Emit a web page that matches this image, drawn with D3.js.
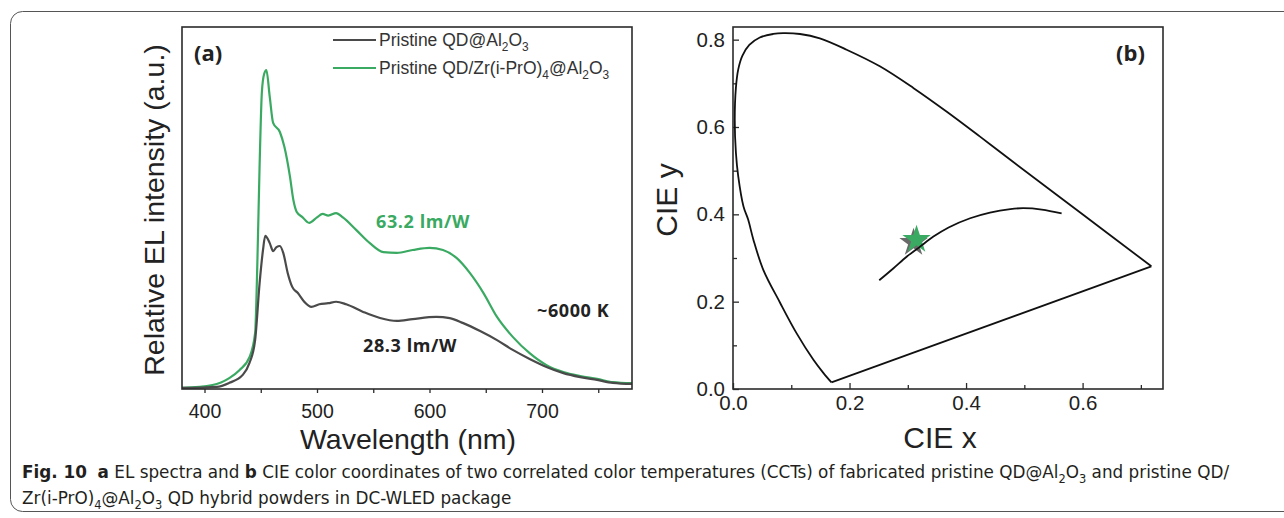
<!DOCTYPE html>
<html>
<head>
<meta charset="utf-8">
<script src="https://cdn.jsdelivr.net/npm/d3@7"></script>
<style>
  body { margin: 0; background: #fff; }
  svg text { font-family: "Liberation Sans", Arial, sans-serif; fill: #222; white-space: pre; }
  svg text.note { font-family: "Open Sans", "Noto Sans", sans-serif; font-weight: bold; }
  svg text.caption { font-family: "DejaVu Sans Condensed", "Liberation Sans Narrow", sans-serif; fill: #231f20; }
</style>
</head>
<body>
<svg id="fig" width="1284" height="518"></svg>
<script>
/*
** Data: (a) EL spectra
*/
var wlPristine = [380, 411, 422, 434, 440, 445, 449, 452, 454, 458, 461, 464, 467, 470, 474, 478,
                  483, 489, 495, 502, 510, 517, 526, 541, 556, 571, 585, 606, 618, 630, 645, 660, 674,
                  689, 704, 719, 734, 749, 763, 780];
var elPristine = [0.003, 0.006, 0.017, 0.039, 0.072, 0.135, 0.293, 0.384, 0.423, 0.403, 0.381, 0.392,
                  0.395, 0.376, 0.320, 0.282, 0.265, 0.240, 0.227, 0.234, 0.237, 0.241, 0.234, 0.213,
                  0.196, 0.188, 0.193, 0.199, 0.196, 0.182, 0.160, 0.135, 0.108, 0.083, 0.061, 0.044,
                  0.033, 0.025, 0.017, 0.014];

var wlZr = [380, 407, 422, 431, 440, 445, 447, 449, 451, 453, 455, 458, 461, 467, 471, 476, 479,
            482, 487, 493, 500, 505, 510, 517, 523, 535, 547, 559, 571, 585, 600, 612, 624, 636, 648,
            660, 674, 689, 704, 719, 734, 749, 763, 780];
var elZr = [0.003, 0.011, 0.030, 0.052, 0.088, 0.155, 0.350, 0.620, 0.820, 0.870, 0.881, 0.807,
            0.735, 0.710, 0.669, 0.586, 0.522, 0.489, 0.475, 0.459, 0.474, 0.484, 0.479, 0.486,
            0.474, 0.439, 0.403, 0.378, 0.376, 0.384, 0.390, 0.384, 0.362, 0.320, 0.265, 0.199,
            0.144, 0.099, 0.066, 0.047, 0.036, 0.028, 0.019, 0.016];

var ticksA = [400, 500, 600, 700];
var minorA = [450, 550, 650, 750];

/*
** Data: (b) CIE 1931 diagram
*/
var locusX = [0.169, 0.155, 0.138, 0.109, 0.081, 0.052, 0.035, 0.026, 0.018, 0.009, 0.005, 0.003,
              0.005, 0.009, 0.016, 0.028, 0.046, 0.069, 0.086, 0.115, 0.149, 0.195, 0.252, 0.310,
              0.367, 0.424, 0.476, 0.597, 0.718];
var locusY = [0.015, 0.037, 0.067, 0.128, 0.197, 0.273, 0.342, 0.388, 0.418, 0.487, 0.541, 0.617,
              0.690, 0.732, 0.763, 0.788, 0.805, 0.813, 0.815, 0.813, 0.803, 0.777, 0.739, 0.689,
              0.635, 0.578, 0.525, 0.403, 0.281];
var planckX = [0.251, 0.275, 0.298, 0.321, 0.344, 0.370, 0.407, 0.441, 0.476, 0.498, 0.530, 0.564];
var planckY = [0.249, 0.276, 0.303, 0.326, 0.349, 0.370, 0.391, 0.404, 0.412, 0.414, 0.411, 0.402];
var starXY = [0.315, 0.342];

var ticksB = [0, 0.2, 0.4, 0.6];
var minorBx = [0.1, 0.3, 0.5, 0.7];
var ticksBy = [0, 0.2, 0.4, 0.6, 0.8];
var minorBy = [0.1, 0.3, 0.5, 0.7];

var green = "#3aaa62"
  , gray = "#4a4a4a"
  , ink = "#2b2b2b"
;

/*
** Helper: text with bold parts and subscripts
*/
function richText(sel, parts, size) {
    var shift = 0;
    parts.forEach(function(p) {
        var s = p.sub ? size * 0.3 : 0;
        sel.append("tspan")
            .attr("dy", s - shift)
            .style("font-size", (p.sub ? size * 0.68 : size) + "px")
            .style("font-weight", p.bold ? "bold" : null)
            .text(p.t)
        ;
        shift = s;
    });
    return sel;
}

function styleAxis(g, size) {
    g.select(".domain").remove();
    g.attr("color", ink)
        .attr("font-size", size)
        .attr("font-family", "Liberation Sans, Arial, sans-serif")
    ;
    g.selectAll(".tick line").attr("stroke-width", 1.3);
}

var svg = d3.select("#fig");

// outer caption box (right edge runs off the page)
svg.append("rect")
    .attr("x", 10.5).attr("y", 11.5)
    .attr("width", 1320).attr("height", 500)
    .attr("rx", 12)
    .attr("fill", "none")
    .attr("stroke", "#555")
    .attr("stroke-width", 1)
;

/*
** Panel (a)
*/
var xA = d3.scaleLinear().domain([380, 780]).range([182, 632]);
var yA = d3.scaleLinear().domain([0, 1]).range([389, 27]);
var panelA = svg.append("g");

panelA.append("g")
    .attr("transform", "translate(0,389)")
    .call(d3.axisBottom(xA).tickValues(minorA).tickSize(4).tickFormat(""))
    .call(styleAxis, 19)
;
panelA.append("g")
    .attr("transform", "translate(0,389)")
    .call(d3.axisBottom(xA).tickValues(ticksA).tickSize(4).tickPadding(11))
    .call(styleAxis, 19.5)
;

var lineA = d3.line()
    .x(function(d) { return xA(d[0]); })
    .y(function(d) { return yA(d[1]); })
    .curve(d3.curveMonotoneX)
;
panelA.append("path")
    .datum(d3.zip(wlZr, elZr))
    .attr("d", lineA)
    .attr("fill", "none").attr("stroke", green).attr("stroke-width", 2.2)
;
panelA.append("path")
    .datum(d3.zip(wlPristine, elPristine))
    .attr("d", lineA)
    .attr("fill", "none").attr("stroke", gray).attr("stroke-width", 2.2)
;
panelA.append("rect")
    .attr("x", 182).attr("y", 27).attr("width", 450).attr("height", 362)
    .attr("fill", "none").attr("stroke", ink).attr("stroke-width", 1.6)
;

panelA.append("text")
    .attr("class", "note")
    .attr("x", 194).attr("y", 61)
    .style("font-size", "22px")
    .text("(a)")
;

// legend
var legend = [
    { color: gray, y: 40, parts: [{ t: "Pristine QD@Al" }, { t: "2", sub: 1 }, { t: "O" }, { t: "3", sub: 1 }] },
    { color: green, y: 68, parts: [{ t: "Pristine QD/Zr(i-PrO)" }, { t: "4", sub: 1 }, { t: "@Al" },
                                   { t: "2", sub: 1 }, { t: "O" }, { t: "3", sub: 1 }] }
];
legend.forEach(function(l) {
    panelA.append("line")
        .attr("x1", 333).attr("x2", 376).attr("y1", l.y).attr("y2", l.y)
        .attr("stroke", l.color).attr("stroke-width", 2.2)
    ;
    panelA.append("text")
        .attr("x", 379).attr("y", l.y + 6)
        .style("fill", "#333")
        .call(richText, l.parts, 17.5)
    ;
});

panelA.append("text").attr("class", "note")
    .attr("x", 376).attr("y", 228)
    .style("font-size", "18px").style("fill", green).style("letter-spacing", "0.6px")
    .text("63.2 lm/W")
;
panelA.append("text").attr("class", "note")
    .attr("x", 537).attr("y", 317)
    .style("font-size", "18px").style("letter-spacing", "0.6px")
    .text("~6000 K")
;
panelA.append("text").attr("class", "note")
    .attr("x", 363).attr("y", 352)
    .style("font-size", "18px").style("letter-spacing", "0.6px")
    .text("28.3 lm/W")
;

panelA.append("text")
    .attr("transform", "translate(164,210) rotate(-90)")
    .attr("text-anchor", "middle")
    .style("font-size", "28.5px")
    .text("Relative EL intensity (a.u.)")
;
panelA.append("text")
    .attr("x", 408).attr("y", 449)
    .attr("text-anchor", "middle")
    .style("font-size", "28.5px")
    .text("Wavelength (nm)")
;

/*
** Panel (b)
*/
var xB = d3.scaleLinear().domain([0, 0.738]).range([733, 1163]);
var yB = d3.scaleLinear().domain([0, 0.829]).range([389, 27]);
var panelB = svg.append("g");
var f1 = d3.format(".1f");

panelB.append("g")
    .attr("transform", "translate(0,389)")
    .call(d3.axisBottom(xB).tickValues(minorBx).tickSize(-4).tickFormat(""))
    .call(styleAxis, 20)
;
panelB.append("g")
    .attr("transform", "translate(0,389)")
    .call(d3.axisBottom(xB).tickValues(ticksB).tickSize(-6).tickPadding(6).tickFormat(f1))
    .call(styleAxis, 20.5)
;
panelB.append("g")
    .attr("transform", "translate(733,0)")
    .call(d3.axisLeft(yB).tickValues(minorBy).tickSize(-4).tickFormat(""))
    .call(styleAxis, 20)
;
panelB.append("g")
    .attr("transform", "translate(733,0)")
    .call(d3.axisLeft(yB).tickValues(ticksBy).tickSize(-6).tickPadding(8).tickFormat(f1))
    .call(styleAxis, 20.5)
;

var lineB = d3.line()
    .x(function(d) { return xB(d[0]); })
    .y(function(d) { return yB(d[1]); })
;
var locus = d3.zip(locusX, locusY);

panelB.append("path")
    .datum(locus)
    .attr("d", lineB.curve(d3.curveCatmullRom))
    .attr("fill", "none").attr("stroke", "#111").attr("stroke-width", 1.8)
;
// purple line: closes the horseshoe
panelB.append("path")
    .datum([locus[locus.length - 1], locus[0]])
    .attr("d", lineB.curve(d3.curveLinear))
    .attr("fill", "none").attr("stroke", "#111").attr("stroke-width", 1.8)
;

var star = d3.symbol(d3.symbolStar, 250);
panelB.append("path")
    .attr("d", star())
    .attr("transform", "translate(" + (xB(starXY[0]) - 3) + "," + (yB(starXY[1]) + 3) + ")")
    .attr("fill", "#6a6a6a")
;
panelB.append("path")
    .attr("d", star())
    .attr("transform", "translate(" + xB(starXY[0]) + "," + yB(starXY[1]) + ")")
    .attr("fill", green)
;

panelB.append("path")
    .datum(d3.zip(planckX, planckY))
    .attr("d", lineB.curve(d3.curveCatmullRom))
    .attr("fill", "none").attr("stroke", "#111").attr("stroke-width", 1.8)
;

panelB.append("rect")
    .attr("x", 733).attr("y", 27).attr("width", 430).attr("height", 362)
    .attr("fill", "none").attr("stroke", ink).attr("stroke-width", 1.6)
;
panelB.append("text")
    .attr("class", "note")
    .attr("x", 1116).attr("y", 61)
    .style("font-size", "22px")
    .text("(b)")
;
panelB.append("text")
    .attr("x", 940).attr("y", 448)
    .attr("text-anchor", "middle")
    .style("font-size", "30px")
    .text("CIE x")
;
panelB.append("text")
    .attr("transform", "translate(677,200) rotate(-90)")
    .attr("text-anchor", "middle")
    .style("font-size", "30px")
    .text("CIE y")
;

/*
** Caption
*/
var caption1 = svg.append("text")
    .attr("class", "caption")
    .call(richText, [
        { t: "Fig. 10", bold: 1 }, { t: "  " }, { t: "a", bold: 1 }, { t: " EL spectra and " },
        { t: "b", bold: 1 },
        { t: " CIE color coordinates of two correlated color temperatures (CCTs) of fabricated pristine QD@Al" },
        { t: "2", sub: 1 }, { t: "O" }, { t: "3", sub: 1 }, { t: " and pristine QD/" }
    ], 17)
;
var caption2 = svg.append("text")
    .attr("class", "caption")
    .call(richText, [
        { t: "Zr(i-PrO)" }, { t: "4", sub: 1 }, { t: "@Al" }, { t: "2", sub: 1 }, { t: "O" },
        { t: "3", sub: 1 }, { t: " QD hybrid powders in DC-WLED package" }
    ], 17)
;
var k = 1208 / caption1.node().getComputedTextLength();
caption1.attr("transform", "translate(22,478) scale(" + k + ",1)");
caption2.attr("transform", "translate(22,504) scale(" + k + ",1)");
</script>
</body>
</html>
